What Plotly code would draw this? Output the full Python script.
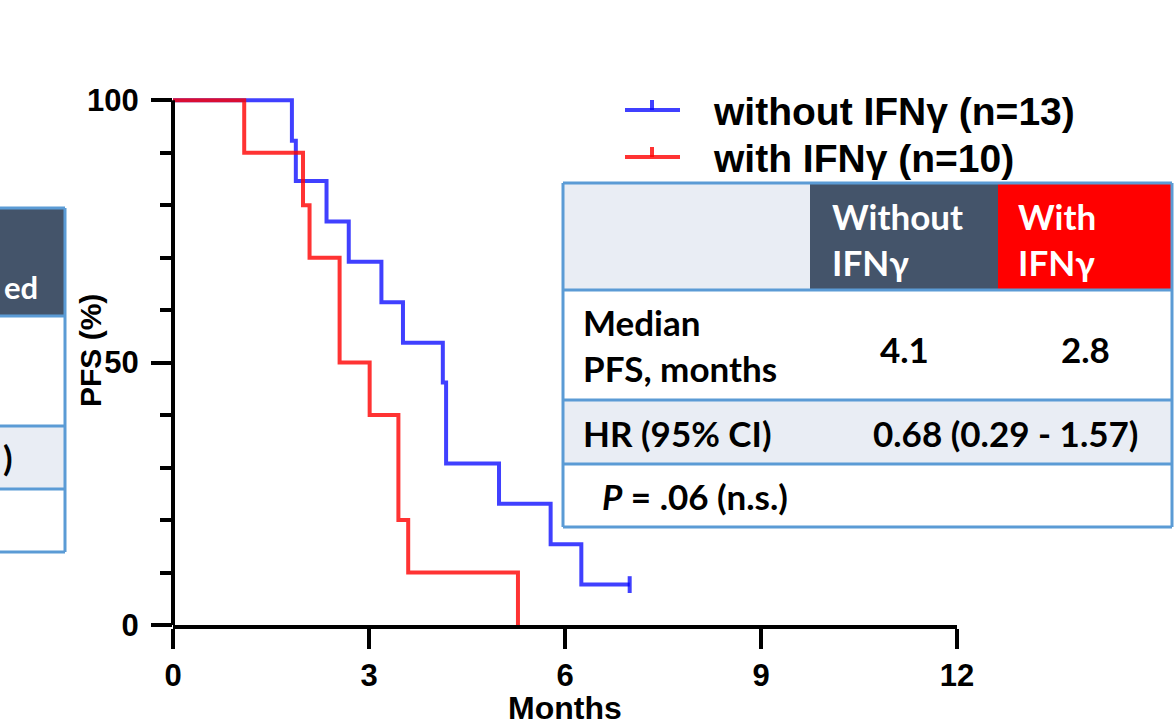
import plotly.graph_objects as go

# ---------------- data ----------------
months_tickvals = [0, 3, 6, 9, 12]
pfs_tickvals = [0, 50, 100]

without_months = [0, 1.82, 1.88, 2.35, 2.69, 3.19, 3.52, 4.13, 4.18, 4.99, 5.78, 6.25, 6.99]
without_pfs = [100, 92.3, 84.6, 76.9, 69.2, 61.5, 53.8, 46.2, 30.8, 23.1, 15.4, 7.7, 7.7]
without_censored_months = [6.99]
without_censored_pfs = [7.7]

with_months = [0, 1.09, 1.99, 2.09, 2.55, 3.01, 3.45, 3.60, 5.28]
with_pfs = [100, 90, 80, 70, 50, 40, 20, 10, 0]

legend_labels = ["without IFNγ (n=13)", "with IFNγ (n=10)"]
header_labels = ["Without<br>IFNγ", "With<br>IFNγ"]
row_labels = ["Median<br>PFS, months", "HR (95% CI)", "<i>P</i> = .06 (n.s.)"]
median_values = ["4.1", "2.8"]
hr_value = "0.68 (0.29 - 1.57)"

# ---------------- styles ----------------
BLUE = "rgba(0,0,255,0.75)"
RED = "rgba(255,0,0,0.8)"
DARK = "#44546A"
LIGHT = "#E9EDF4"
BORDER = "#5B9BD5"
AX_FONT = "Liberation Sans"
TB_FONT = "Lato"
TB_SIZE = 35

W_PX, H_PX = 1176, 728
ML, MR, MT, MB = 173, 219, 95, 103
PW = W_PX - ML - MR
PH = H_PX - MT - MB


def px(xp):
    return (xp - ML) / PW


def py(yp):
    return (H_PX - MB - yp) / PH


fig = go.Figure()

fig.add_trace(go.Scatter(x=without_months, y=without_pfs, mode="lines",
                         line=dict(color=BLUE, width=4, shape="hv"),
                         showlegend=False, hoverinfo="skip"))
fig.add_trace(go.Scatter(x=without_censored_months, y=without_censored_pfs, mode="markers",
                         marker=dict(symbol="line-ns", size=12,
                                     line=dict(color=BLUE, width=4)),
                         showlegend=False, hoverinfo="skip", cliponaxis=False))
fig.add_trace(go.Scatter(x=with_months, y=with_pfs, mode="lines",
                         line=dict(color=RED, width=4, shape="hv"),
                         showlegend=False, hoverinfo="skip"))

shapes = []
annotations = []


def rect(x0, y0, x1, y1, fill):
    shapes.append(dict(type="rect", xref="paper", yref="paper",
                       x0=px(x0), x1=px(x1), y0=py(y0), y1=py(y1),
                       fillcolor=fill, line=dict(width=0), layer="above"))


def line(x0, y0, x1, y1, color, width):
    shapes.append(dict(type="line", xref="paper", yref="paper",
                       x0=px(x0), x1=px(x1), y0=py(y0), y1=py(y1),
                       line=dict(color=color, width=width), layer="above"))


def text(t, x, y, size, color="black", family=TB_FONT, xanchor="left",
         weight="bold", angle=0, yanchor="middle", align="left"):
    annotations.append(dict(text=t, x=px(x), y=py(y), xref="paper", yref="paper",
                            xanchor=xanchor, yanchor=yanchor, showarrow=False,
                            textangle=angle, align=align,
                            font=dict(family=family, size=size, color=color, weight=weight)))


# y axis line (drawn 0-100)
shapes.append(dict(type="line", xref="paper", yref="y", x0=0, x1=0, y0=0, y1=100,
                   line=dict(color="black", width=4), layer="above"))

# ---------------- legend ----------------
for i, (lab, col) in enumerate(zip(legend_labels, [BLUE, RED])):
    yl = [110, 157][i]
    line(625, yl, 680, yl, col, 4)
    line(652, yl, 652, yl - 10, col, 4)
    text(lab, 711, yl + 1, 39, family=AX_FONT)

# ---------------- right table ----------------
cx = [563, 810, 998, 1172]
ry = [183, 290, 400, 464, 527]
rect(cx[0], ry[0], cx[1], ry[1], LIGHT)
rect(cx[1], ry[0], cx[2], ry[1], DARK)
rect(cx[2], ry[0], cx[3], ry[1], "#FF0000")
rect(cx[0], ry[1], cx[3], ry[2], "white")
rect(cx[0], ry[2], cx[3], ry[3], LIGHT)
rect(cx[0], ry[3], cx[3], ry[4], "white")
for yy in ry:
    line(cx[0], yy, cx[3], yy, BORDER, 3)
line(cx[0], ry[0], cx[0], ry[-1], BORDER, 3)
line(cx[3], ry[0], cx[3], ry[-1], BORDER, 3)

hdr_x = [830, 1016]
for hx, lab in zip(hdr_x, header_labels):
    text(lab, hx, 239, TB_SIZE, color="white")

text(row_labels[0], 581, 345, TB_SIZE)
text(median_values[0], 904, 349, TB_SIZE, xanchor="center")
text(median_values[1], 1085, 349, TB_SIZE, xanchor="center")
text(row_labels[1], 581, 433, TB_SIZE)
text(hr_value, 1005, 433, TB_SIZE, xanchor="center")
text(row_labels[2], 600, 496, TB_SIZE)

# ---------------- left table fragment ----------------
lx0, lx1 = -10, 65
ly = [208, 316, 426, 489, 552]
rect(lx0, ly[0], lx1, ly[1], DARK)
rect(lx0, ly[1], lx1, ly[2], "white")
rect(lx0, ly[2], lx1, ly[3], LIGHT)
rect(lx0, ly[3], lx1, ly[4], "white")
for yy in ly:
    line(lx0, yy, lx1, yy, BORDER, 3)
line(lx1, ly[0], lx1, ly[-1], BORDER, 3)
text("ed", 40, 287, 31, color="white", xanchor="right")
text(")", 15, 457, TB_SIZE, xanchor="right")

# ---------------- axis titles ----------------
text("PFS (%)", 90, 351, 30, family=AX_FONT, xanchor="center", angle=-90)
text("Months", 565, 728, 32, family=AX_FONT, xanchor="center", yanchor="bottom")

fig.update_layout(
    width=W_PX, height=H_PX,
    margin=dict(l=ML, r=MR, t=MT, b=MB, pad=0),
    paper_bgcolor="white", plot_bgcolor="white",
    shapes=shapes, annotations=annotations,
    showlegend=False,
    xaxis=dict(range=[0, 12], tickvals=months_tickvals, ticktext=[str(v) for v in months_tickvals],
               showgrid=False, zeroline=False, showline=True, linecolor="black", linewidth=4,
               ticks="outside", ticklen=20, tickwidth=4, tickcolor="black",
               tickfont=dict(family=AX_FONT, size=31, color="black", weight="bold")),
    yaxis=dict(range=[0, 101], tickvals=pfs_tickvals, ticktext=[str(v) for v in pfs_tickvals],
               showgrid=False, zeroline=False, showline=False,
               ticks="outside", ticklen=21, tickwidth=4, tickcolor="black",
               ticklabelstandoff=6,
               tickfont=dict(family=AX_FONT, size=31, color="black", weight="bold"),
               minor=dict(dtick=10, tick0=0, ticks="outside", ticklen=12, tickwidth=4,
                          tickcolor="black", showgrid=False)),
)

fig.write_html(
    "out.html",
    config={"displayModeBar": False},
    post_script="document.body.style.margin='0';document.body.style.padding='0';"
                "document.body.style.overflow='hidden';",
)
